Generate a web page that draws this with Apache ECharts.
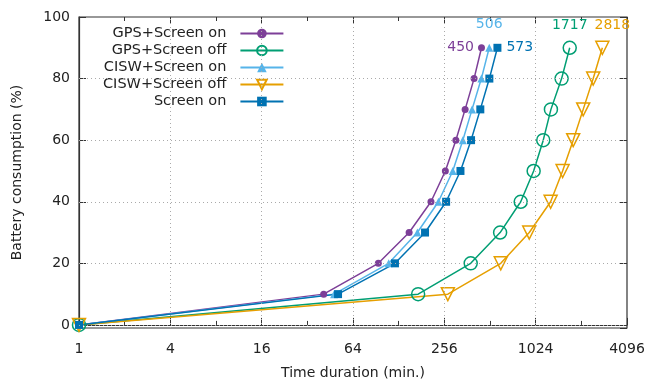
<!DOCTYPE html>
<html>
<head>
<meta charset="utf-8">
<script src="https://cdn.jsdelivr.net/npm/echarts@6/dist/echarts.min.js"></script>
<style>
  html, body { margin: 0; padding: 0; background: #fff; }
  #chart { width: 649px; height: 385px; }
</style>
</head>
<body>
<div id="chart"></div>
<script>
// battery level steps (%), shared by all series
var levels = [0, 10, 20, 30, 40, 50, 60, 70, 80, 90];

// time (min.) at which each level is reached
var gpsScreenOn   = [1, 41, 94, 150, 209, 260, 305, 351, 402, 450];
var gpsScreenOff  = [1, 172, 382, 597, 816, 993, 1149, 1291, 1518, 1717];
var ciswScreenOn  = [1, 48, 110, 170, 234, 291, 339, 390, 449, 506];
var ciswScreenOff = [1, 270, 603, 929, 1285, 1541, 1810, 2107, 2452, 2818];
var screenOn      = [1, 51, 121, 191, 263, 327, 384, 442, 507, 573];

var seriesNames = ['GPS+Screen on', 'GPS+Screen off', 'CISW+Screen on', 'CISW+Screen off', 'Screen on'];
var xGrid = [4, 16, 64, 256, 1024];
var yGrid = [0, 20, 40, 60, 80];

var font = 'DejaVu Sans';
var axisColor = '#333';
var textColor = '#222';

function pairs(xs, label) {
    var out = [];
    for (var i = 0; i < xs.length; i++) {
        var item = { value: [xs[i], levels[i]] };
        if (i == xs.length - 1) {
            // end-point annotation (total duration)
            item.label = Object.assign({ show: true, formatter: String(xs[i]) }, label);
        }
        out.push(item);
    }
    return out;
}

function makeSeries(name, xs, color, symbol, size, hollow, label, rotate) {
    return {
        name: name,
        type: 'line',
        data: pairs(xs, label),
        symbol: symbol,
        symbolSize: size,
        symbolRotate: rotate || 0,
        clip: false,
        lineStyle: { color: color, width: 1.5 },
        itemStyle: hollow
            ? { color: 'rgba(255,255,255,0)', borderColor: color, borderWidth: 1.5 }
            : { color: color },
        label: { color: color, fontFamily: font, fontSize: 14 },
        emphasis: { disabled: true },
        z: 3
    };
}

// dotted grid at the major ticks, drawn as mark lines
function gridItem(key, v) {
    var o = { lineStyle: { color: '#aaaaaa', type: [1, 3], width: 1 } };
    o[key] = v;
    return o;
}
var gridLines = [];
yGrid.forEach(function (v) { gridLines.push(gridItem('yAxis', v)); });
xGrid.forEach(function (v) { gridLines.push(gridItem('xAxis', v)); });

function tickAxis(base, pos, len) {
    return {
        type: 'log', logBase: base, min: 1, max: 4096, interval: 1, position: pos,
        axisLine: { show: false },
        axisTick: { inside: true, length: len, lineStyle: { color: axisColor } },
        axisLabel: { show: false }, splitLine: { show: false }
    };
}

var chart = echarts.init(document.getElementById('chart'), null, { renderer: 'canvas' });

var option = {
    animation: false,
    grid: { left: 79, right: 22, top: 17, bottom: 50, show: true, borderColor: axisColor, borderWidth: 1.2 },
    legend: {
        orient: 'vertical',
        left: 98,
        top: 21,
        align: 'right',
        itemWidth: 43,
        itemHeight: 12,
        itemGap: 2,
        data: seriesNames,
        formatter: function (n) { return '{t|' + n + '}'; },
        textStyle: {
            rich: {
                t: { width: 120, align: 'right', fontFamily: font, fontSize: 14.5, color: textColor, lineHeight: 17, padding: [0, 9, 0, 0] }
            }
        }
    },
    xAxis: [
        {
            type: 'log', logBase: 4, min: 1, max: 4096, interval: 1, position: 'bottom',
            name: 'Time duration (min.)', nameLocation: 'middle', nameGap: 38,
            nameTextStyle: { fontFamily: font, fontSize: 14, color: textColor },
            axisLine: { lineStyle: { color: axisColor, width: 1.2 } },
            axisTick: { inside: true, length: 7, lineStyle: { color: axisColor } },
            axisLabel: { fontFamily: font, fontSize: 14, color: textColor, margin: 14, formatter: function (v) { return String(Math.round(v)); } },
            splitLine: { show: false }
        },
        tickAxis(2, 'bottom', 4),
        tickAxis(4, 'top', 7),
        tickAxis(2, 'top', 4)
    ],
    yAxis: [
        {
            type: 'value', min: -1, max: 100, position: 'left',
            name: 'Battery consumption (%)', nameLocation: 'middle', nameGap: 55,
            nameTextStyle: { fontFamily: font, fontSize: 14, color: textColor },
            axisLine: { show: true, lineStyle: { color: axisColor, width: 1.2 } },
            axisTick: { show: true, inside: true, length: 7, lineStyle: { color: axisColor } },
            axisLabel: { fontFamily: font, fontSize: 14, color: textColor, margin: 9 },
            splitLine: { show: false }
        },
        {
            type: 'value', min: -1, max: 100, position: 'right',
            axisLine: { show: false },
            axisTick: { show: true, inside: true, length: 7, lineStyle: { color: axisColor } },
            axisLabel: { show: false },
            splitLine: { show: false }
        }
    ],
    series: [
        {
            name: 'grid',
            type: 'line',
            data: [],
            z: 1,
            markLine: { silent: true, symbol: 'none', label: { show: false }, animation: false, data: gridLines }
        },
        makeSeries(seriesNames[0], gpsScreenOn, '#7D3F98', 'circle', 7, false, { position: 'left', distance: 4 }),
        makeSeries(seriesNames[1], gpsScreenOff, '#009E73', 'circle', 13, true, { position: 'top', distance: 8 }),
        makeSeries(seriesNames[2], ciswScreenOn, '#56B4E9', 'triangle', 8, false, { position: 'top', distance: 12 }),
        makeSeries(seriesNames[3], ciswScreenOff, '#E69F00', 'triangle', 13, true, { position: 'top', distance: 8, offset: [10, 0] }, 180),
        makeSeries(seriesNames[4], screenOn, '#0072B2', 'rect', 8, false, { position: 'right', distance: 5 })
    ]
};
chart.setOption(option);
</script>
</body>
</html>
